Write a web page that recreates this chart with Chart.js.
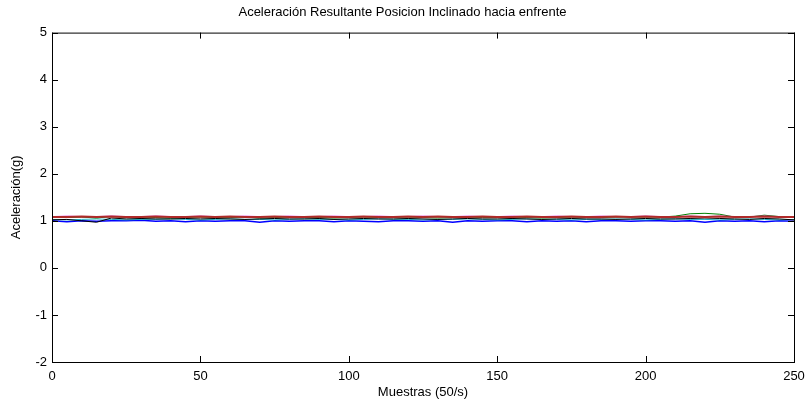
<!DOCTYPE html>
<html>
<head>
<meta charset="utf-8">
<script src="https://cdn.jsdelivr.net/npm/chart.js@4/dist/chart.umd.min.js"></script>
<style>
  html, body { margin: 0; padding: 0; background: #fff; }
  #wrap { width: 805px; height: 407px; }
</style>
</head>
<body>
<div id="wrap"><canvas id="accChart" width="805" height="407"></canvas></div>
<script>
// Samples (every 5th sample)
const samples = [0, 5, 10, 15, 20, 25, 30, 35, 40, 45,
  50, 55, 60, 65, 70, 75, 80, 85, 90, 95,
  100, 105, 110, 115, 120, 125, 130, 135, 140, 145,
  150, 155, 160, 165, 170, 175, 180, 185, 190, 195,
  200, 205, 210, 215, 220, 225, 230, 235, 240, 245, 250];

const redValues = [1.08, 1.08, 1.09, 1.08, 1.09, 1.08, 1.08, 1.09, 1.08, 1.08,
  1.09, 1.08, 1.09, 1.08, 1.08, 1.09, 1.08, 1.08, 1.09, 1.08,
  1.08, 1.09, 1.08, 1.08, 1.09, 1.08, 1.09, 1.08, 1.08, 1.09,
  1.08, 1.08, 1.09, 1.08, 1.08, 1.09, 1.08, 1.08, 1.09, 1.08,
  1.09, 1.08, 1.08, 1.09, 1.08, 1.09, 1.08, 1.08, 1.09, 1.08, 1.08];

const magentaValues = [1.09, 1.10, 1.09, 1.09, 1.10, 1.09, 1.09, 1.10, 1.09, 1.09,
  1.10, 1.09, 1.09, 1.10, 1.09, 1.09, 1.10, 1.09, 1.09, 1.10,
  1.09, 1.09, 1.10, 1.09, 1.09, 1.10, 1.09, 1.09, 1.10, 1.09,
  1.09, 1.10, 1.09, 1.09, 1.10, 1.09, 1.09, 1.10, 1.09, 1.09,
  1.10, 1.09, 1.09, 1.10, 1.09, 1.10, 1.09, 1.09, 1.10, 1.09, 1.09];

const greenValues = [1.07, 1.07, 1.08, 1.06, 1.09, 1.07, 1.08, 1.07, 1.06, 1.07,
  1.08, 1.07, 1.07, 1.08, 1.06, 1.07, 1.08, 1.07, 1.07, 1.06,
  1.07, 1.08, 1.07, 1.07, 1.08, 1.07, 1.06, 1.07, 1.08, 1.07,
  1.07, 1.08, 1.07, 1.06, 1.07, 1.08, 1.07, 1.07, 1.08, 1.08,
  1.08, 1.08, 1.10, 1.15, 1.16, 1.14, 1.08, 1.08, 1.12, 1.09, 1.07];

const blackValues = [1.02, 1.03, 1.00, 0.97, 1.06, 1.04, 1.05, 1.04, 1.04, 1.05,
  1.04, 1.05, 1.04, 1.03, 1.04, 1.05, 1.04, 1.04, 1.05, 1.03,
  1.04, 1.05, 1.04, 1.04, 1.05, 1.04, 1.03, 1.04, 1.05, 1.04,
  1.04, 1.05, 1.04, 1.03, 1.04, 1.05, 1.04, 1.04, 1.03, 1.04,
  1.05, 1.04, 1.04, 1.05, 1.06, 1.05, 1.04, 1.03, 1.05, 1.04, 1.02];

const cyanValues = [1.03, 1.02, 1.03, 1.04, 1.03, 1.02, 1.03, 1.03, 1.04, 1.03,
  1.02, 1.03, 1.04, 1.03, 1.03, 1.02, 1.03, 1.04, 1.03, 1.03,
  1.02, 1.03, 1.04, 1.03, 1.03, 1.02, 1.03, 1.03, 1.04, 1.03,
  1.02, 1.03, 1.04, 1.03, 1.03, 1.02, 1.03, 1.03, 1.04, 1.03,
  1.02, 1.03, 1.04, 1.03, 1.03, 1.02, 1.03, 1.04, 1.03, 1.02, 1.03];

const blueValues = [1.00, 0.98, 1.00, 0.99, 1.00, 1.00, 1.01, 0.99, 1.00, 0.98,
  1.00, 0.99, 1.00, 1.00, 0.97, 1.00, 0.99, 1.00, 1.00, 0.98,
  1.00, 0.99, 0.98, 1.00, 1.00, 0.99, 1.00, 0.97, 1.00, 0.99,
  1.00, 1.00, 0.98, 1.00, 0.99, 1.00, 0.98, 1.00, 1.00, 0.99,
  1.00, 1.00, 0.99, 1.00, 0.97, 1.00, 0.99, 1.00, 0.98, 1.00, 0.99];

const xTicks = [0, 50, 100, 150, 200, 250];
const yTicks = [-2, -1, 0, 1, 2, 3, 4, 5];

function toPoints(values) {
  return samples.map((s, i) => ({ x: s, y: values[i] }));
}

function line(values, color, width) {
  return {
    data: toPoints(values),
    borderColor: color,
    borderWidth: width,
    pointRadius: 0,
    tension: 0,
    fill: false
  };
}

// MATLAB style box with inward ticks
const boxPlugin = {
  id: "boxPlugin",
  afterDraw(chart) {
    const { ctx, chartArea: a, scales } = chart;
    ctx.save();
    ctx.strokeStyle = "#000";
    ctx.lineWidth = 1;
    ctx.strokeRect(a.left + 0.5, a.top + 0.5, a.right - a.left, a.bottom - a.top);
    ctx.beginPath();
    xTicks.forEach(v => {
      const px = Math.round(scales.x.getPixelForValue(v)) + 0.5;
      ctx.moveTo(px, a.bottom); ctx.lineTo(px, a.bottom - 6);
      ctx.moveTo(px, a.top); ctx.lineTo(px, a.top + 6);
    });
    yTicks.forEach(v => {
      const py = Math.round(scales.y.getPixelForValue(v)) + 0.5;
      ctx.moveTo(a.left, py); ctx.lineTo(a.left + 6, py);
      ctx.moveTo(a.right, py); ctx.lineTo(a.right - 6, py);
    });
    ctx.stroke();
    ctx.restore();
  }
};

const font = { family: "'Liberation Sans', Arial, sans-serif", size: 13 };

const ctx = document.getElementById("accChart").getContext("2d");
const accChart = new Chart(ctx, {
  type: "line",
  data: {
    datasets: [
      line(redValues, "#b02a2a", 2),
      line(magentaValues, "#e040e0", 1),
      line(blackValues, "#000000", 1),
      line(greenValues, "#008000", 1),
      line(cyanValues, "#20b0c0", 1),
      line(blueValues, "#0000ff", 1.5)
    ]
  },
  options: {
    responsive: false,
    animation: false,
    layout: { padding: { left: 0, right: 0, top: 0, bottom: 0 } },
    plugins: {
      legend: { display: false },
      tooltip: { enabled: false },
      title: {
        display: true,
        text: "Aceleración Resultante Posicion Inclinado hacia enfrente",
        color: "#000",
        font: { ...font, weight: "normal" },
        padding: { top: 5, bottom: 12 }
      }
    },
    scales: {
      x: {
        type: "linear",
        min: 0,
        max: 250,
        afterBuildTicks: s => { s.ticks = xTicks.map(v => ({ value: v })); },
        afterFit: s => { s.height = 45; s.paddingRight = 11; s.paddingLeft = 4; },
        grid: { display: false, drawTicks: false },
        border: { display: false },
        ticks: { color: "#000", font, padding: 7, maxRotation: 0 },
        title: { display: true, text: "Muestras (50/s)", color: "#000", font, padding: { top: 0, bottom: 7 } }
      },
      y: {
        type: "linear",
        min: -2,
        max: 5,
        afterBuildTicks: s => { s.ticks = yTicks.map(v => ({ value: v })); },
        afterFit: s => { s.width = 52; },
        grid: { display: false, drawTicks: false },
        border: { display: false },
        ticks: { color: "#000", font, padding: 5 },
        title: { display: true, text: "Aceleración(g)", color: "#000", font, padding: { top: 9, bottom: 0 } }
      }
    }
  },
  plugins: [boxPlugin]
});
</script>
</body>
</html>
